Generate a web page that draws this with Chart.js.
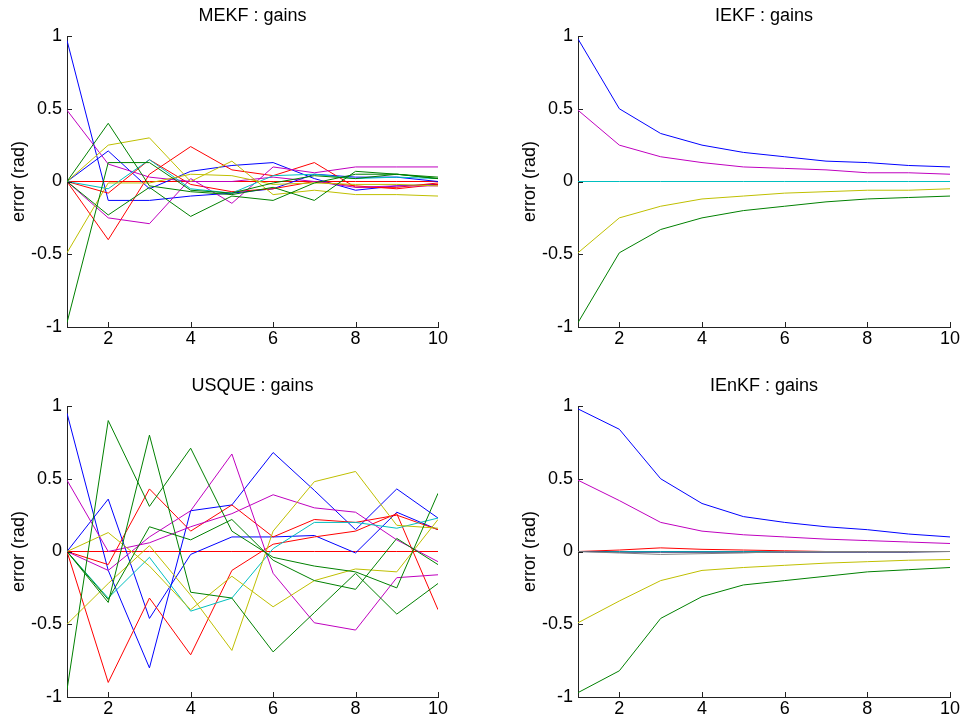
<!DOCTYPE html>
<html>
<head>
<meta charset="utf-8">
<script src="https://cdn.jsdelivr.net/npm/chart.js@4.4.0/dist/chart.umd.min.js"></script>
<style>
  body { margin: 0; background: #fff; width: 962px; height: 722px; position: relative; overflow: hidden; }
  .panel { position: absolute; }
</style>
</head>
<body>
<div class="panel" style="left:0;top:0;width:450px;height:361px"><canvas id="mekf"></canvas></div>
<div class="panel" style="left:511px;top:0;width:451px;height:361px"><canvas id="iekf"></canvas></div>
<div class="panel" style="left:0;top:370px;width:450px;height:352px"><canvas id="usque"></canvas></div>
<div class="panel" style="left:511px;top:370px;width:451px;height:352px"><canvas id="ienkf"></canvas></div>
<script>
// steps and ticks
const steps = [1, 2, 3, 4, 5, 6, 7, 8, 9, 10];
const xTicks = [2, 4, 6, 8, 10];
const yTicks = [-1, -0.5, 0, 0.5, 1];

// MATLAB colour order
const cBlue = '#0000ff', cGreen = '#008000', cRed = '#ff0000',
      cCyan = '#00bfbf', cMag = '#bf00bf', cYel = '#bfbf00';

// MEKF : gains
const mekfSeries = [
  [0, 0.4, -0.03, -0.07, -0.09, -0.04, -0.13, 0.07, 0.05, 0.02],
  [0, -0.23, -0.04, -0.24, -0.1, -0.13, -0.01, 0.05, 0.05, 0.03],
  [-0.97, 0.13, 0.13, -0.06, -0.08, -0.01, 0.04, 0.02, 0.05, 0.02],
  [-0.49, -0.01, -0.01, 0.05, 0.04, -0.02, -0.01, -0.02, -0.02, -0.03],
  [0, 0.25, 0.3, 0.0, 0.14, -0.09, -0.06, -0.09, -0.09, -0.1],
  [0, -0.05, 0.15, -0.05, -0.08, 0.04, 0.05, 0.02, 0.03, 0.02],
  [0.49, 0.12, 0.03, 0.0, 0.0, 0.03, 0.0, -0.04, -0.03, -0.03],
  [0, -0.25, -0.29, 0.02, -0.15, 0.1, 0.06, 0.1, 0.1, 0.1],
  [0, -0.4, 0.05, 0.24, 0.08, 0.04, 0.13, -0.04, -0.04, -0.01],
  [0, -0.08, 0.15, -0.02, -0.07, -0.05, 0.0, -0.03, -0.05, -0.02],
  [0.97, -0.13, -0.13, -0.1, -0.08, -0.05, 0.05, 0.03, 0.03, 0.0],
  [0, 0.21, -0.05, 0.07, 0.11, 0.13, 0.02, -0.06, -0.03, -0.02],
  [0, 0, 0, 0, 0, 0, 0, 0, 0, 0]
];
const mekfColors = [cGreen, cGreen, cGreen, cYel, cYel, cCyan, cMag, cMag, cRed, cRed, cBlue, cBlue, cRed];

// IEKF : gains
const iekfSeries = [
  [0.98, 0.5, 0.33, 0.25, 0.2, 0.17, 0.14, 0.13, 0.11, 0.1],
  [0.49, 0.25, 0.17, 0.13, 0.1, 0.09, 0.08, 0.06, 0.06, 0.05],
  [0, 0, 0, 0, 0, 0, 0, 0, 0, 0],
  [-0.49, -0.25, -0.17, -0.12, -0.1, -0.08, -0.07, -0.06, -0.06, -0.05],
  [-0.97, -0.49, -0.33, -0.25, -0.2, -0.17, -0.14, -0.12, -0.11, -0.1]
];
const iekfColors = [cBlue, cMag, cCyan, cYel, cGreen];

// USQUE : gains
const usqueSeries = [
  [-0.95, 0.9, 0.31, 0.71, 0.14, -0.04, -0.1, -0.14, -0.25, 0.4],
  [0, -0.35, 0.8, -0.28, -0.32, -0.69, -0.42, -0.15, -0.43, -0.22],
  [0, -0.33, 0.17, 0.08, 0.22, -0.06, -0.2, -0.26, 0.09, -0.09],
  [-0.5, -0.22, 0.04, -0.3, -0.68, 0.14, 0.48, 0.55, 0.18, 0.16],
  [0, 0.13, -0.1, -0.4, -0.17, -0.38, -0.2, -0.12, -0.14, 0.22],
  [0, -0.32, -0.04, -0.41, -0.32, 0.02, 0.2, 0.2, 0.16, 0.23],
  [0.49, 0.0, 0.06, 0.17, 0.26, 0.39, 0.3, 0.27, 0.08, -0.07],
  [0, -0.13, 0.1, 0.28, 0.67, -0.15, -0.49, -0.54, -0.18, -0.16],
  [0, -0.9, -0.32, -0.71, -0.13, 0.05, 0.1, 0.14, 0.26, -0.4],
  [0, -0.09, 0.43, 0.14, 0.32, 0.1, 0.22, 0.2, 0.25, 0.15],
  [0.95, -0.13, -0.8, 0.28, 0.32, 0.68, 0.42, 0.15, 0.43, 0.23],
  [0, 0.36, -0.46, -0.02, 0.1, 0.1, 0.11, -0.01, 0.27, 0.15],
  [0, 0, 0, 0, 0, 0, 0, 0, 0, 0]
];
const usqueColors = [cGreen, cGreen, cGreen, cYel, cYel, cCyan, cMag, cMag, cRed, cRed, cBlue, cBlue, cRed];

// IEnKF : gains
const ienkfSeries = [
  [0.98, 0.84, 0.5, 0.33, 0.24, 0.2, 0.17, 0.15, 0.12, 0.1],
  [0.49, 0.35, 0.2, 0.14, 0.115, 0.1, 0.085, 0.075, 0.065, 0.055],
  [0, -0.01, -0.02, -0.015, -0.01, 0, 0, 0, 0, 0],
  [0, -0.005, -0.005, -0.005, -0.005, -0.005, -0.005, -0.005, -0.005, 0],
  [0, 0.01, 0.025, 0.015, 0.01, 0.005, 0, 0, 0, 0],
  [0, 0, 0, 0, 0, 0, 0, 0, 0, 0],
  [-0.49, -0.34, -0.2, -0.13, -0.11, -0.095, -0.08, -0.07, -0.06, -0.055],
  [-0.97, -0.82, -0.46, -0.31, -0.23, -0.2, -0.17, -0.14, -0.125, -0.11]
];
const ienkfColors = [cBlue, cMag, '#808080', '#303070', cRed, cCyan, cYel, cGreen];

const axisColor = '#222';
const fontFamily = '"Liberation Sans", Arial, sans-serif';

// MATLAB-style ticks pointing into the axes
const inwardTicks = {
  id: 'inwardTicks',
  afterDraw(chart) {
    const { ctx, chartArea, scales } = chart;
    ctx.save();
    ctx.strokeStyle = axisColor;
    ctx.lineWidth = 1;
    ctx.beginPath();
    scales.x.ticks.forEach(t => {
      const px = Math.round(scales.x.getPixelForValue(t.value)) + 0.5;
      ctx.moveTo(px, chartArea.bottom);
      ctx.lineTo(px, chartArea.bottom - 5);
    });
    scales.y.ticks.forEach(t => {
      const py = Math.round(scales.y.getPixelForValue(t.value)) + 0.5;
      ctx.moveTo(chartArea.left, py);
      ctx.lineTo(chartArea.left + 5, py);
    });
    ctx.stroke();
    ctx.restore();
  }
};

function makeChart(id, title, series, colors, xAxisHeight) {
  new Chart(document.getElementById(id), {
    type: 'line',
    data: {
      datasets: series.map((vals, i) => ({
        data: steps.map((x, j) => ({ x: x, y: vals[j] })),
        borderColor: colors[i],
        borderWidth: 1,
        pointRadius: 0,
        tension: 0,
        fill: false
      }))
    },
    options: {
      responsive: true,
      maintainAspectRatio: false,
      animation: false,
      layout: { padding: { left: 0, right: 12, top: 0, bottom: 0 } },
      plugins: {
        legend: { display: false },
        tooltip: { enabled: false },
        title: {
          display: true,
          text: title,
          fullSize: false,
          color: '#000',
          font: { family: fontFamily, size: 18, weight: 'normal', lineHeight: 1.2 },
          padding: { top: 5, bottom: 9.4 }
        }
      },
      scales: {
        x: {
          type: 'linear',
          min: 1,
          max: 10,
          afterBuildTicks: s => { s.ticks = xTicks.map(v => ({ value: v })); },
          afterFit: s => { s.height = xAxisHeight; },
          grid: { display: false, drawTicks: false, tickLength: 0 },
          border: { display: true, color: axisColor, width: 1 },
          ticks: { color: '#000', padding: 1, maxRotation: 0, font: { family: fontFamily, size: 18 }, callback: v => String(v) }
        },
        y: {
          min: -1,
          max: 1,
          afterBuildTicks: s => { s.ticks = yTicks.map(v => ({ value: v })); },
          afterFit: s => { s.width = 67; },
          grid: { display: false, drawTicks: false, tickLength: 0 },
          border: { display: true, color: axisColor, width: 1 },
          ticks: { color: '#000', padding: 5, font: { family: fontFamily, size: 18 }, callback: v => String(v) },
          title: {
            display: true,
            text: 'error (rad)',
            color: '#000',
            font: { family: fontFamily, size: 18, lineHeight: 1.2 },
            padding: { top: 8, bottom: 0 }
          }
        }
      }
    },
    plugins: [inwardTicks]
  });
}

makeChart('mekf', 'MEKF : gains', mekfSeries, mekfColors, 34);
makeChart('iekf', 'IEKF : gains', iekfSeries, iekfColors, 34);
makeChart('usque', 'USQUE : gains', usqueSeries, usqueColors, 25);
makeChart('ienkf', 'IEnKF : gains', ienkfSeries, ienkfColors, 25);
</script>
</body>
</html>
